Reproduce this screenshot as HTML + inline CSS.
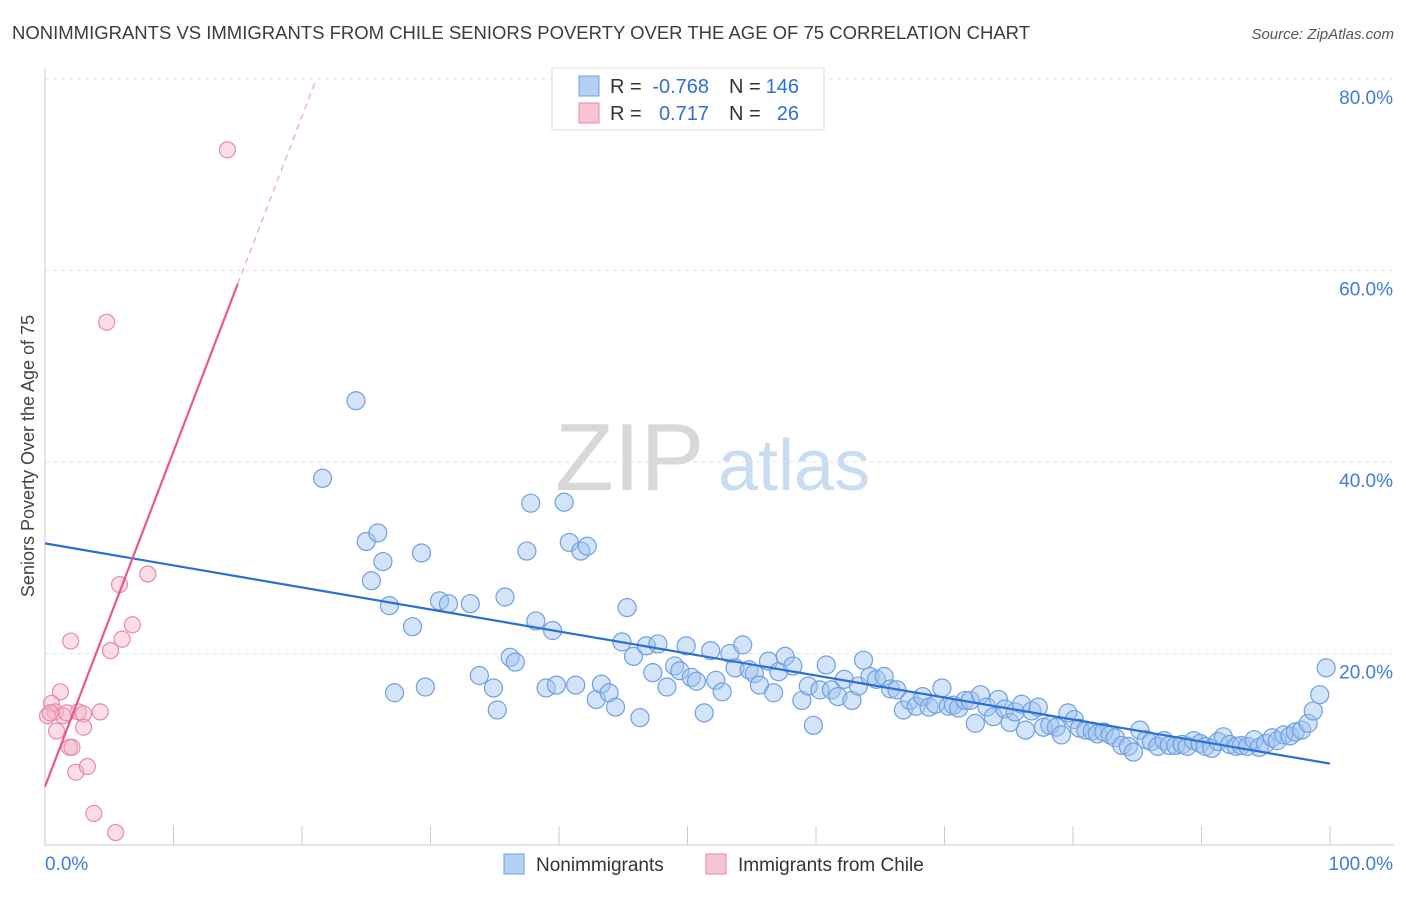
<!DOCTYPE html>
<html><head><meta charset="utf-8"><style>
body{margin:0;background:#fff;font-family:"Liberation Sans",sans-serif;}
svg text{font-family:"Liberation Sans",sans-serif;}
</style></head><body>
<svg id="chart" width="1406" height="892" viewBox="0 0 1406 892" xmlns="http://www.w3.org/2000/svg">
<text x="12" y="39" font-size="18.5" fill="#3c3c3c">NONIMMIGRANTS VS IMMIGRANTS FROM CHILE SENIORS POVERTY OVER THE AGE OF 75 CORRELATION CHART</text>
<text x="1394" y="39" font-size="15" fill="#555" text-anchor="end" font-style="italic">Source: ZipAtlas.com</text>
<g>
<text x="555" y="490" font-size="96" font-family="Liberation Serif,serif" fill="#d8d8d8">ZIP</text>
<text x="718" y="490" font-size="72" fill="#c8dcf2">atlas</text>
</g>
<g id="grid"></g>
<g id="axes"></g>
<text transform="translate(34,456) rotate(-90)" font-size="18" fill="#444" text-anchor="middle">Seniors Poverty Over the Age of 75</text>
<g id="marks"></g>
<g>
<rect x="552" y="68" width="272" height="62" fill="#fff" stroke="#ddd"/>
<rect x="579" y="76" width="20" height="20" fill="#b4d0f4" stroke="#6fa0e0"/>
<rect x="579" y="103" width="20" height="20" fill="#f9c4d2" stroke="#e88aa8"/>
<text x="610" y="93" font-size="20" fill="#333">R =</text>
<text x="709" y="93" font-size="20" fill="#2f6fd6" text-anchor="end">-0.768</text>
<text x="729" y="93" font-size="20" fill="#333">N =</text>
<text x="799" y="93" font-size="20" fill="#2f6fd6" text-anchor="end">146</text>
<text x="610" y="120" font-size="20" fill="#333">R =</text>
<text x="709" y="120" font-size="20" fill="#2f6fd6" text-anchor="end">0.717</text>
<text x="729" y="120" font-size="20" fill="#333">N =</text>
<text x="799" y="120" font-size="20" fill="#2f6fd6" text-anchor="end">26</text>
</g>
<g>
<rect x="504" y="854" width="20" height="20" fill="#b4d0f4" stroke="#6fa0e0"/>
<text x="536" y="871" font-size="19" fill="#333">Nonimmigrants</text>
<rect x="706" y="854" width="20" height="20" fill="#f9c4d2" stroke="#e88aa8"/>
<text x="738" y="871" font-size="19" fill="#333">Immigrants from Chile</text>
</g>
</svg>
<script>
const yTicks=[20,40,60,80];
const yTickLabels=["20.0%","40.0%","60.0%","80.0%"];
const xEndLabels=["0.0%","100.0%"];
const blueX=[24.2,21.6,25.0,25.9,25.4,26.3,26.8,29.3,28.6,27.2,29.6,30.7,31.4,33.1,33.8,34.9,35.2,35.8,36.2,36.6,37.5,37.8,38.2,39.5,39.0,39.8,40.4,40.8,41.7,42.2,41.3,42.9,43.3,43.9,44.4,44.9,45.3,45.8,46.3,46.8,47.3,47.7,48.4,49.0,49.4,49.9,50.3,50.7,51.3,51.8,52.2,52.7,53.3,53.7,54.3,54.8,55.2,55.6,56.3,56.7,57.1,57.6,58.2,58.9,59.4,59.8,60.3,60.8,61.2,61.7,62.2,62.8,63.3,63.7,64.2,64.7,65.3,65.8,66.3,66.8,67.3,67.8,68.3,68.8,69.3,69.8,70.3,70.7,71.1,71.6,72.0,72.4,72.8,73.3,73.8,74.2,74.7,75.1,75.5,76.0,76.3,76.8,77.3,77.7,78.2,78.7,79.1,79.6,80.1,80.5,81.0,81.5,81.9,82.4,82.9,83.3,83.8,84.3,84.7,85.2,85.7,86.1,86.6,87.1,87.5,88.0,88.5,88.9,89.4,89.9,90.3,90.8,91.3,91.7,92.2,92.7,93.1,93.6,94.1,94.5,95.0,95.5,95.9,96.4,96.9,97.3,97.8,98.3,98.7,99.2,99.7];
const blueY=[46.4,38.3,31.7,32.6,27.6,29.6,25.0,30.5,22.8,15.9,16.5,25.5,25.2,25.2,17.7,16.4,14.1,25.9,19.6,19.1,30.7,35.7,23.4,22.4,16.4,16.7,35.8,31.6,30.7,31.2,16.7,15.2,16.8,15.9,14.4,21.2,24.8,19.7,13.3,20.8,18.0,21.0,16.5,18.7,18.2,20.8,17.5,17.1,13.8,20.3,17.2,16.0,20.0,18.5,20.9,18.3,17.9,16.7,19.2,15.9,18.1,19.7,18.7,15.1,16.6,12.5,16.2,18.8,16.2,15.5,17.3,15.1,16.6,19.3,17.6,17.3,17.6,16.3,16.2,14.1,15.1,14.5,15.5,14.4,14.7,16.4,14.5,14.6,14.3,15.1,15.1,12.7,15.7,14.4,13.4,15.2,14.2,12.8,13.9,14.7,12.0,14.0,14.4,12.3,12.5,12.3,11.5,13.8,13.1,12.2,12.0,11.9,11.6,11.8,11.5,11.2,10.4,10.3,9.7,12.0,11.0,10.8,10.3,10.9,10.4,10.4,10.5,10.3,10.9,10.6,10.3,10.1,10.8,11.3,10.5,10.3,10.4,10.3,11.0,10.2,10.6,11.2,10.9,11.5,11.4,11.8,12.0,12.7,14.0,15.7,18.5];
const pinkX=[14.2,4.8,8.0,5.8,6.8,6.0,5.1,2.0,1.2,0.5,0.8,1.4,1.7,2.6,3.0,4.3,3.0,0.9,0.2,1.9,2.1,2.4,3.3,3.8,5.5,0.4];
const pinkY=[72.6,54.6,28.3,27.2,23.0,21.5,20.3,21.3,16.0,14.8,13.9,13.5,13.8,13.9,13.7,13.9,12.3,11.9,13.5,10.2,10.2,7.6,8.2,3.3,1.3,13.8];
const blueTrend=[31.5,8.5];
const pinkTrend=[6.1,3.5];
const X0=45,X1=1330,Y0=845,Y80=79;
const sx=v=>X0+(X1-X0)*v/100;
const sy=v=>Y0-(Y0-Y80)*v/80;
const NS="http://www.w3.org/2000/svg";
function mk(tag,attrs,parent){const e=document.createElementNS(NS,tag);for(const k in attrs)e.setAttribute(k,attrs[k]);parent.appendChild(e);return e;}
const grid=document.getElementById('grid'),axes=document.getElementById('axes'),marks=document.getElementById('marks');
yTicks.forEach((t,i)=>{
 const l=mk('line',{x1:X0,x2:1394,y1:sy(t),y2:sy(t),stroke:'#e2e2e2','stroke-dasharray':'4,4'},grid);
 
 
 const tx=mk('text',{x:1393,y:sy(t)+25,'font-size':19,fill:'#3f7bdc','text-anchor':'end'},axes);
 tx.textContent=yTickLabels[i];
 
 
});
const ax=mk('line',{x1:X0,x2:1394,y1:Y0,y2:Y0,stroke:'#ccc'},axes);


const ay=mk('line',{x1:X0,x2:X0,y1:68,y2:Y0,stroke:'#ccc'},axes);


for(let i=0;i<=10;i++){
 const t=mk('line',{x1:sx(i*10),x2:sx(i*10),y1:826,y2:Y0,stroke:'#ccc'},axes);
 
 
}
const xl0=mk('text',{x:45,y:870,'font-size':19,fill:'#3f7bdc'},axes);xl0.textContent=xEndLabels[0];


const xl1=mk('text',{x:1393,y:870,'font-size':19,fill:'#3f7bdc','text-anchor':'end'},axes);xl1.textContent=xEndLabels[1];


blueX.forEach((v,i)=>{
 const c=mk('circle',{cx:sx(v),cy:sy(blueY[i]),r:9,fill:'rgba(160,196,240,0.45)',stroke:'#6fa0e0','stroke-width':1.2},marks);
 
 
});
pinkX.forEach((v,i)=>{
 const c=mk('circle',{cx:sx(v),cy:sy(pinkY[i]),r:8,fill:'rgba(245,180,200,0.45)',stroke:'#e88aa8','stroke-width':1.2},marks);
 
 
});
const bl=mk('line',{x1:sx(0),y1:sy(blueTrend[0]),x2:sx(100),y2:sy(blueTrend[1]),stroke:'#2a6fd6','stroke-width':2.2},marks);


const pe=15,pd=21;
const pl=mk('line',{x1:sx(0),y1:sy(pinkTrend[0]),x2:sx(pe),y2:sy(pinkTrend[0]+pinkTrend[1]*pe),stroke:'#e8588a','stroke-width':2.2},marks);


const pld=mk('line',{x1:sx(pe),y1:sy(pinkTrend[0]+pinkTrend[1]*pe),x2:sx(pd),y2:sy(pinkTrend[0]+pinkTrend[1]*pd),stroke:'#eaa0b8','stroke-width':1.2,'stroke-dasharray':'6,5'},marks);


</script>
</body></html>
